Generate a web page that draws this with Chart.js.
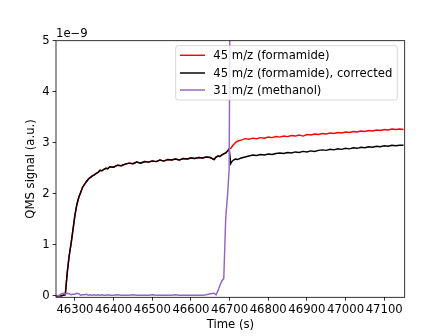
<!DOCTYPE html>
<html>
<head>
<meta charset="utf-8">
<script src="https://cdn.jsdelivr.net/npm/chart.js@4.4.1/dist/chart.umd.min.js"></script>
<style>
html, body { margin: 0; padding: 0; background: #fff; }
canvas { display: block; }
</style>
</head>
<body>
<canvas id="chart" width="448" height="336"></canvas>
<script>
// time axis (s), shared by all three series
const timeS = [
  46251, 46260, 46265, 46270, 46275, 46280, 46285, 46290, 46295, 46300,
  46305, 46310, 46315, 46320, 46325, 46330, 46335, 46340, 46345, 46350,
  46355, 46360, 46365, 46370, 46375, 46380, 46385, 46390, 46400, 46410,
  46420, 46430, 46440, 46450, 46460, 46470, 46480, 46490, 46500, 46510,
  46520, 46530, 46540, 46550, 46560, 46570, 46580, 46590, 46600, 46610,
  46620, 46630, 46640, 46650, 46660, 46665, 46670, 46675, 46680, 46685,
  46690, 46695, 46699, 46703, 46706, 46710, 46715, 46720, 46730, 46740,
  46750, 46760, 46770, 46780, 46790, 46800, 46810, 46820, 46830, 46840,
  46850, 46860, 46870, 46880, 46890, 46900, 46910, 46920, 46930, 46940,
  46950, 46960, 46970, 46980, 46990, 47000, 47010, 47020, 47030, 47040,
  47050, 47060, 47070, 47080, 47090, 47100, 47110, 47120, 47130, 47140,
  47150
];

// QMS signal in units of 1e-9
const formamide = [
  0.00, 0.00, 0.00, 0.01, 0.02, 0.45, 0.78, 1.02, 1.30, 1.58,
  1.79, 1.93, 2.03, 2.13, 2.19, 2.24, 2.29, 2.32, 2.35, 2.37,
  2.40, 2.42, 2.46, 2.45, 2.48, 2.50, 2.49, 2.53, 2.52, 2.56,
  2.55, 2.58, 2.60, 2.59, 2.62, 2.60, 2.63, 2.62, 2.64, 2.63,
  2.66, 2.64, 2.67, 2.66, 2.68, 2.66, 2.69, 2.68, 2.70, 2.69,
  2.71, 2.70, 2.72, 2.71, 2.67, 2.72, 2.74, 2.73, 2.76, 2.78,
  2.80, 2.84, 2.88, 2.89, 2.92, 2.96, 3.00, 3.03, 3.05, 3.08,
  3.07, 3.09, 3.08, 3.10, 3.09, 3.11, 3.10, 3.12, 3.11, 3.13,
  3.12, 3.14, 3.13, 3.15, 3.13, 3.16, 3.15, 3.17, 3.16, 3.18,
  3.17, 3.19, 3.18, 3.20, 3.19, 3.21, 3.20, 3.22, 3.21, 3.23,
  3.22, 3.24, 3.23, 3.25, 3.24, 3.26, 3.25, 3.27, 3.26, 3.27,
  3.26
];

const formamideCorrected = [
  0.00, 0.00, 0.00, 0.01, 0.02, 0.45, 0.78, 1.02, 1.30, 1.58,
  1.79, 1.93, 2.03, 2.13, 2.19, 2.24, 2.29, 2.32, 2.35, 2.37,
  2.40, 2.42, 2.46, 2.45, 2.48, 2.50, 2.49, 2.53, 2.52, 2.56,
  2.55, 2.58, 2.60, 2.59, 2.62, 2.60, 2.63, 2.62, 2.64, 2.63,
  2.66, 2.64, 2.67, 2.66, 2.68, 2.66, 2.69, 2.68, 2.70, 2.69,
  2.71, 2.70, 2.72, 2.71, 2.67, 2.72, 2.74, 2.73, 2.76, 2.78,
  2.80, 2.84, 2.88, 2.59, 2.63, 2.66, 2.68, 2.67, 2.70, 2.72,
  2.74, 2.76, 2.75, 2.77, 2.76, 2.78, 2.77, 2.79, 2.80, 2.79,
  2.81, 2.80, 2.82, 2.81, 2.83, 2.82, 2.84, 2.83, 2.85, 2.86,
  2.85, 2.87, 2.86, 2.88, 2.87, 2.89, 2.88, 2.90, 2.89, 2.91,
  2.90, 2.92, 2.91, 2.93, 2.92, 2.94, 2.93, 2.95, 2.94, 2.95,
  2.95
];

// goes far off the top of the axis after ~46700 s
const methanol = [
  0.00, 0.01, 0.04, 0.05, 0.03, 0.05, 0.04, 0.02, 0.03, 0.03,
  0.05, 0.04, 0.01, 0.02, 0.02, 0.03, 0.01, 0.02, 0.01, 0.02,
  0.01, 0.02, 0.01, 0.02, 0.01, 0.01, 0.02, 0.01, 0.01, 0.02,
  0.01, 0.01, 0.01, 0.02, 0.01, 0.01, 0.01, 0.01, 0.02, 0.01,
  0.01, 0.01, 0.01, 0.01, 0.02, 0.01, 0.01, 0.01, 0.01, 0.01,
  0.01, 0.01, 0.02, 0.04, 0.05, 0.02, 0.10, 0.20, 0.29, 0.34,
  1.52, 2.00, 2.50, 9, 9, 9, 9, 9, 9, 9,
  9, 9, 9, 9, 9, 9, 9, 9, 9, 9,
  9, 9, 9, 9, 9, 9, 9, 9, 9, 9,
  9, 9, 9, 9, 9, 9, 9, 9, 9, 9,
  9, 9, 9, 9, 9, 9, 9, 9, 9, 9,
  9
];

const seriesLabels = ['45 m/z (formamide)', '45 m/z (formamide), corrected', '31 m/z (methanol)'];
const seriesColors = ['#ff0000', '#000000', '#9467bd'];
const xTicks = [46300, 46400, 46500, 46600, 46700, 46800, 46900, 47000, 47100];
const yTicks = [0, 1, 2, 3, 4, 5];

const FONT = 'DejaVu Sans';
const FS = 11.67;

Chart.defaults.font.family = FONT;
Chart.defaults.font.size = FS;
Chart.defaults.color = '#000';

const toPoints = vals => timeS.map((t, i) => ({ x: t, y: vals[i] }));

// frame, legend and the 1e-9 offset label, drawn like matplotlib does
const extras = {
  id: 'extras',
  afterDatasetsDraw(chart) {
    const { ctx, chartArea: a } = chart;
    ctx.save();
    ctx.strokeStyle = '#000';
    ctx.lineWidth = 0.8;
    ctx.strokeRect(a.left, a.top, a.right - a.left, a.bottom - a.top);

    // legend
    const lx = 175.7, ly = 45.7, lw = 221.6, lh = 54.3, r = 2.5;
    ctx.beginPath();
    ctx.moveTo(lx + r, ly);
    ctx.arcTo(lx + lw, ly, lx + lw, ly + lh, r);
    ctx.arcTo(lx + lw, ly + lh, lx, ly + lh, r);
    ctx.arcTo(lx, ly + lh, lx, ly, r);
    ctx.arcTo(lx, ly, lx + lw, ly, r);
    ctx.closePath();
    ctx.fillStyle = 'rgba(255,255,255,0.8)';
    ctx.fill();
    ctx.strokeStyle = '#cccccc';
    ctx.lineWidth = 0.8;
    ctx.stroke();

    const rows = [55.3, 73, 90];
    ctx.font = FS + 'px "' + FONT + '"';
    ctx.textBaseline = 'middle';
    ctx.textAlign = 'left';
    seriesLabels.forEach((lab, i) => {
      ctx.strokeStyle = seriesColors[i];
      ctx.lineWidth = 1.46;
      ctx.beginPath();
      ctx.moveTo(180, rows[i]);
      ctx.lineTo(205, rows[i]);
      ctx.stroke();
      ctx.fillStyle = '#000';
      ctx.fillText(lab, 213.3, rows[i] + 0.5);
    });

    ctx.textBaseline = 'alphabetic';
    ctx.fillText('1e\u22129', a.left, 37);
    ctx.restore();
  }
};

new Chart(document.getElementById('chart').getContext('2d'), {
  type: 'line',
  data: {
    datasets: [
      { label: seriesLabels[0], data: toPoints(formamide), borderColor: seriesColors[0], order: 3 },
      { label: seriesLabels[1], data: toPoints(formamideCorrected), borderColor: seriesColors[1], order: 2 },
      { label: seriesLabels[2], data: toPoints(methanol), borderColor: seriesColors[2], order: 1 }
    ]
  },
  options: {
    responsive: false,
    animation: false,
    devicePixelRatio: 1,
    elements: {
      point: { radius: 0 },
      line: { borderWidth: 1.46, tension: 0 }
    },
    layout: { padding: { top: 40.7, right: 43.3, left: 0, bottom: 0 } },
    plugins: { legend: { display: false }, tooltip: { enabled: false } },
    scales: {
      x: {
        type: 'linear',
        min: 46251,
        max: 47153,
        afterBuildTicks: s => { s.ticks = xTicks.map(v => ({ value: v })); },
        afterFit: s => { s.height = 38.7; },
        ticks: { callback: v => String(v), padding: 2.5, maxRotation: 0, autoSkip: false },
        grid: { drawOnChartArea: false, tickLength: 3.4, color: '#000', lineWidth: 0.8 },
        border: { display: false },
        title: { display: true, text: 'Time (s)', padding: { top: 0, bottom: 4 } }
      },
      y: {
        type: 'linear',
        min: -0.03,
        max: 5,
        afterBuildTicks: s => { s.ticks = yTicks.map(v => ({ value: v })); },
        afterFit: s => { s.width = 56; },
        ticks: { callback: v => String(v), padding: 3 },
        grid: { drawOnChartArea: false, tickLength: 3.4, color: '#000', lineWidth: 0.8 },
        border: { display: false },
        title: { display: true, text: 'QMS signal (a.u.)', padding: { top: 24.3, bottom: 0 } }
      }
    }
  },
  plugins: [extras]
});
</script>
</body>
</html>
